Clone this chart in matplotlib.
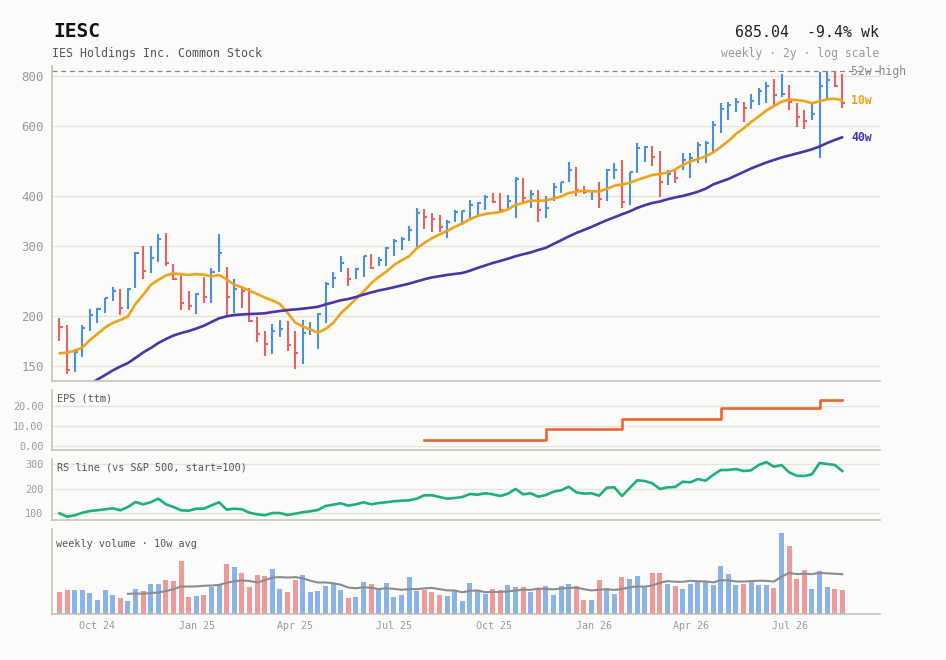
import numpy as np
import pandas as pd
import matplotlib
matplotlib.use("Agg")
import matplotlib.pyplot as plt
import matplotlib.dates as mdates
from matplotlib.ticker import FixedLocator, FuncFormatter, NullLocator

plt.rcParams['font.family'] = ['DejaVu Sans Mono', 'DejaVu Sans']

# ---------------- data ----------------
ticker = "IESC"
company = "IES Holdings Inc. Common Stock"
header_right = "685.04  -9.4% wk"
subheader_right = "weekly · 2y · log scale"

start_date = "2024-08-27"
n_weeks = 104

high = [197.9, 189.8, 165.2, 189.8, 208.3, 209.8, 222.2, 236.1, 233.7, 234.6,
        289.2, 299.8, 300.3, 321.4, 323.8, 270.2, 253.6, 231.1, 228.0, 250.1,
        263.4, 321.4, 265.0, 247.8, 234.6, 234.6, 199.1, 183.3, 190.9, 195.4,
        194.3, 183.3, 195.4, 193.2, 204.0, 242.8, 257.6, 283.0, 263.4, 263.4,
        283.3, 286.0, 280.5, 297.5, 311.5, 315.2, 336.6, 372.7, 370.7, 362.3,
        358.7, 348.8, 369.2, 367.0, 391.2, 387.4, 402.7, 408.1, 408.1, 402.7,
        445.9, 443.3, 413.8, 414.5, 400.4, 430.8, 434.8, 486.5, 474.2, 424.1,
        412.6, 434.8, 466.9, 485.4, 493.0, 460.8, 543.0, 534.5, 534.5, 519.3,
        465.3, 466.9, 512.5, 512.5, 548.0, 550.2, 617.7, 684.4, 690.7, 704.1,
        690.7, 721.0, 749.6, 772.8, 786.2, 809.3, 760.8, 684.4, 658.3, 690.7,
        821.1, 823.5, 822.5, 810.7]

low = [173.3, 142.7, 144.9, 158.0, 183.7, 192.4, 203.1, 218.5, 201.1, 207.8,
       234.6, 248.1, 256.1, 273.8, 267.5, 246.3, 207.0, 207.0, 201.9, 215.3,
       215.3, 258.5, 199.1, 203.8, 209.0, 192.8, 171.7, 159.0, 160.3, 177.4,
       163.6, 147.5, 151.2, 179.5, 165.6, 192.0, 235.2, 258.5, 237.9, 247.8,
       250.6, 261.8, 267.1, 267.1, 282.7, 293.0, 307.7, 295.7, 330.6, 324.8,
       325.7, 313.3, 345.1, 338.6, 353.0, 358.7, 369.2, 385.2, 365.6, 372.7,
       351.7, 387.4, 374.0, 343.9, 353.0, 389.0, 408.1, 434.8, 400.4, 404.3,
       391.2, 372.7, 389.6, 440.6, 372.7, 380.1, 456.6, 488.2, 476.1, 398.7,
       426.6, 430.8, 465.3, 443.3, 483.7, 483.7, 517.2, 577.4, 621.3, 651.9,
       613.2, 662.1, 677.6, 684.4, 673.7, 710.9, 658.3, 597.6, 588.4, 621.3,
       499.4, 697.5, 753.2, 664.5]

close = [187.9, 146.3, 162.7, 186.2, 201.1, 208.3, 221.4, 231.5, 209.8, 233.7,
         288.5, 260.0, 279.1, 312.2, 271.3, 247.8, 215.3, 211.9, 227.1, 223.2,
         258.5, 288.5, 223.5, 233.2, 231.5, 194.6, 179.9, 169.7, 183.7, 185.9,
         168.8, 161.8, 181.6, 184.4, 202.1, 241.1, 248.7, 272.2, 247.2, 262.0,
         283.0, 264.4, 276.5, 296.4, 309.2, 312.6, 328.9, 362.3, 353.8, 349.6,
         335.2, 345.1, 365.0, 366.0, 380.1, 383.8, 397.3, 387.4, 369.2, 389.6,
         441.4, 394.9, 405.0, 369.2, 374.0, 422.3, 433.3, 466.3, 414.5, 410.5,
         411.7, 393.5, 465.3, 466.3, 386.1, 459.2, 528.2, 530.4, 500.9, 434.8,
         454.6, 443.3, 493.0, 498.5, 537.6, 544.9, 603.6, 662.1, 677.6, 690.7,
         666.9, 693.5, 734.8, 756.4, 718.0, 722.2, 689.5, 633.2, 618.8, 643.2,
         754.1, 780.8, 756.1, 685.04]

ma10 = [161.2, 161.8, 163.6, 166.6, 174.0, 180.2, 187.1, 192.0, 195.4, 199.4,
        214.4, 225.8, 239.3, 246.3, 252.8, 255.8, 254.7, 253.6, 254.7, 254.0,
        251.4, 253.6, 247.1, 239.3, 236.1, 231.5, 227.1, 222.5, 218.8, 214.4,
        203.8, 192.6, 188.2, 185.0, 181.5, 185.5, 192.0, 203.1, 211.3, 220.6,
        230.1, 241.6, 250.6, 258.4, 268.6, 275.7, 282.5, 295.9, 305.1, 313.5,
        320.4, 327.0, 334.7, 341.5, 349.9, 356.6, 360.8, 362.8, 365.0, 370.3,
        380.1, 384.5, 389.6, 389.6, 390.1, 394.6, 399.2, 407.4, 410.4, 412.8,
        410.9, 410.9, 416.8, 424.9, 427.8, 431.5, 439.1, 445.6, 452.0, 454.7,
        458.6, 466.6, 479.0, 488.7, 495.8, 503.0, 514.8, 531.5, 550.2, 573.0,
        591.5, 614.2, 634.0, 656.4, 673.7, 690.7, 698.8, 697.5, 693.5, 684.3,
        692.3, 700.4, 702.8, 695.5]

ma40 = [122.3, 125.1, 128.1, 131.5, 134.9, 138.5, 142.1, 145.9, 149.3, 152.3,
        156.9, 161.9, 166.1, 171.0, 175.0, 178.6, 181.2, 183.3, 186.0, 189.0,
        193.2, 197.3, 199.6, 201.1, 201.7, 202.3, 202.6, 203.1, 204.6, 205.8,
        207.0, 207.7, 208.6, 209.7, 210.9, 213.8, 216.3, 219.0, 220.6, 223.2,
        226.2, 229.1, 231.7, 233.8, 236.1, 238.6, 241.1, 244.2, 247.3, 249.9,
        251.7, 253.6, 255.0, 256.5, 259.8, 264.0, 267.8, 271.7, 274.9, 278.5,
        282.5, 285.8, 288.8, 293.0, 296.7, 303.3, 309.9, 316.8, 323.2, 328.9,
        334.7, 341.5, 347.9, 353.9, 360.1, 366.0, 373.5, 379.4, 384.5, 387.8,
        392.8, 396.9, 400.4, 405.0, 410.4, 417.3, 427.8, 434.8, 441.7, 450.7,
        459.9, 469.4, 477.6, 485.9, 493.0, 500.1, 505.9, 511.8, 517.8, 524.4,
        533.0, 543.9, 553.4, 562.2]

volume_k = [226, 243, 243, 243, 216, 143, 243, 193, 166, 133,
            253, 233, 303, 303, 343, 333, 533, 176, 186, 193,
            276, 300, 503, 473, 416, 276, 393, 383, 453, 253,
            226, 343, 393, 226, 236, 283, 310, 243, 166, 176,
            323, 303, 253, 313, 176, 193, 376, 236, 243, 226,
            193, 186, 243, 133, 316, 236, 203, 253, 243, 293,
            273, 273, 223, 260, 283, 193, 283, 303, 283, 143,
            143, 343, 263, 203, 373, 353, 383, 273, 413, 413,
            303, 283, 253, 303, 333, 333, 293, 483, 403, 293,
            303, 323, 293, 293, 263, 813, 683, 353, 443, 253,
            433, 273, 253, 243]

rs_line = [100.0, 86.1, 91.8, 102.4, 109.4, 112.2, 116.3, 120.4, 112.2, 125.7,
           146.1, 136.7, 144.9, 159.6, 136.7, 125.7, 112.2, 110.6, 118.8, 118.8,
           132.6, 144.9, 114.7, 118.8, 116.3, 102.4, 95.9, 91.8, 101.2, 101.2,
           93.1, 98.4, 104.1, 108.2, 113.5, 129.8, 135.1, 140.8, 131.0, 136.7,
           144.9, 136.7, 142.0, 144.9, 149.0, 151.4, 153.0, 159.6, 173.4, 173.4,
           166.5, 159.6, 162.4, 166.5, 178.7, 175.9, 181.6, 177.5, 170.6, 180.0,
           199.1, 177.5, 181.6, 167.7, 174.7, 188.1, 193.8, 208.5, 185.7, 180.0,
           181.6, 171.8, 204.4, 206.1, 170.6, 202.0, 234.6, 231.8, 222.4, 199.1,
           206.1, 207.3, 228.9, 226.5, 239.9, 233.0, 256.3, 276.7, 276.7, 280.7,
           272.6, 275.4, 297.1, 309.3, 290.1, 297.1, 267.3, 253.4, 252.2, 259.1,
           305.2, 301.1, 297.1, 272.6]

eps_start_week = [48, 64, 74, 87, 100]
eps_value = [2.8, 8.3, 13.1, 18.8, 22.8]

price_ticks = [150, 200, 300, 400, 600, 800]
eps_ticks = [0, 10, 20]
rs_ticks = [100, 200, 300]

# ---------------- style ----------------
BG = "#fbfbf9"
SPINE = "#c4c4bc"
GRID = "#e4e4de"
TICKC = "#9a9a9a"
UP = "#4a90e2"
DOWN = "#e36464"
UP_V = "#8ab4e8"
DOWN_V = "#ee9a9a"
ORANGE = "#f0a318"
PURPLE = "#4a35a8"
EPSC = "#ea6530"
RSC = "#1fae7e"

dates = pd.date_range(start_date, periods=n_weeks, freq="7D")
x = mdates.date2num(dates.to_pydatetime())
close_a = np.array(close)
up = np.diff(close_a, prepend=close_a[0]) > 0
bar_cols = [UP if u else DOWN for u in up]
vol_cols = [UP_V if u else DOWN_V for u in up]

eps = np.full(n_weeks, np.nan)
for s, v in zip(eps_start_week, eps_value):
    eps[s:] = v

W, H = 946, 660
fig = plt.figure(figsize=(W / 100, H / 100), dpi=100)
fig.patch.set_facecolor(BG)


def box(left, top, right, bottom):
    return [left / W, 1 - bottom / H, (right - left) / W, (bottom - top) / H]


ax = fig.add_axes(box(52, 66, 880, 381))
ax_eps = fig.add_axes(box(52, 390, 880, 450), sharex=ax)
ax_rs = fig.add_axes(box(52, 459, 880, 520.3), sharex=ax)
ax_vol = fig.add_axes(box(52, 529, 880, 614.3), sharex=ax)

for a in (ax, ax_eps, ax_rs, ax_vol):
    a.set_facecolor(BG)
    for s in ("top", "right"):
        a.spines[s].set_visible(False)
    for s in ("left", "bottom"):
        a.spines[s].set_color(SPINE)
        a.spines[s].set_linewidth(1.2)
    a.tick_params(axis="both", length=0, labelcolor=TICKC)
    a.set_axisbelow(True)

# ---- price panel ----
ax.vlines(x, low, high, colors=bar_cols, lw=1.5)
ax.hlines(close, x, x + 2.8, colors=bar_cols, lw=1.5)
ax.plot(x, ma10, color=ORANGE, lw=1.9, solid_capstyle="round")
ax.plot(x, ma40, color=PURPLE, lw=1.9, solid_capstyle="round")
hi52 = max(high[-52:])
ax.axhline(hi52, color="#8a8a8a", lw=0.9, ls=(0, (4, 3)))
ax.set_yscale("log")
ax.set_ylim(137.3, 849)
ax.yaxis.set_major_locator(FixedLocator(price_ticks))
ax.yaxis.set_minor_locator(NullLocator())
ax.yaxis.set_major_formatter(FuncFormatter(lambda v, p: f"{v:.0f}"))
ax.tick_params(axis="y", labelsize=9, pad=6)
ax.tick_params(axis="x", labelbottom=False)
ax.grid(axis="y", color=GRID, lw=1.0)
lx = x[-1] + 8.3
ax.text(lx, hi52, "52w high", color="#8a8a8a", fontsize=8.3, va="center", ha="left")
ax.text(lx, ma10[-1], "10w", color=ORANGE, fontsize=8.3, fontweight="bold", va="center", ha="left")
ax.text(lx, ma40[-1], "40w", color=PURPLE, fontsize=8.3, fontweight="bold", va="center", ha="left")
ax.set_xlim(x[0] - 6.9, x[0] + 755.7)

# ---- EPS panel ----
ax_eps.step(x, eps, where="post", color=EPSC, lw=1.9)
ax_eps.set_ylim(-2.15, 27.85)
ax_eps.yaxis.set_major_locator(FixedLocator(eps_ticks))
ax_eps.yaxis.set_major_formatter(FuncFormatter(lambda v, p: f"{v:.2f}"))
ax_eps.tick_params(axis="y", labelsize=7.3, pad=6)
ax_eps.tick_params(axis="x", labelbottom=False)
ax_eps.grid(axis="y", color=GRID, lw=1.0)
ax_eps.text(0.0057, 0.862, "EPS (ttm)", transform=ax_eps.transAxes, fontsize=7.3,
            color="#555555", va="center", ha="left")

# ---- RS panel ----
ax_rs.plot(x, rs_line, color=RSC, lw=1.9)
ax_rs.set_ylim(71.4, 321.6)
ax_rs.yaxis.set_major_locator(FixedLocator(rs_ticks))
ax_rs.yaxis.set_major_formatter(FuncFormatter(lambda v, p: f"{v:.0f}"))
ax_rs.tick_params(axis="y", labelsize=7.3, pad=6)
ax_rs.tick_params(axis="x", labelbottom=False)
ax_rs.grid(axis="y", color=GRID, lw=1.0)
ax_rs.text(0.0057, 0.858, "RS line (vs S&P 500, start=100)", transform=ax_rs.transAxes,
           fontsize=7.3, color="#555555", va="center", ha="left")

# ---- volume panel ----
vol = pd.Series(volume_k, dtype=float)
ax_vol.bar(x, vol, width=4.6, color=vol_cols)
ax_vol.plot(x, vol.rolling(10).mean(), color="#8c8c8c", lw=1.5)
ax_vol.set_ylim(0, vol.max() * 1.05)
ax_vol.set_yticks([])
ax_vol.text(0.005, 0.824, "weekly volume · 10w avg", transform=ax_vol.transAxes,
            fontsize=7.3, color="#555555", va="center", ha="left")
ax_vol.xaxis.set_major_locator(mdates.MonthLocator(bymonth=[1, 4, 7, 10]))
ax_vol.xaxis.set_major_formatter(mdates.DateFormatter("%b %y"))
ax_vol.tick_params(axis="x", labelsize=7.2, pad=5, labelcolor=TICKC)

# ---- header ----
fig.text(53 / W, 1 - 36.7 / H, ticker, fontsize=14, fontweight="bold", color="#111111",
         va="baseline", ha="left")
fig.text(52 / W, 1 - 56.7 / H, company, fontsize=8.4, color="#555555",
         va="baseline", ha="left")
fig.text(879 / W, 1 - 36.7 / H, header_right, fontsize=10.7, color="#222222",
         va="baseline", ha="right")
fig.text(879 / W, 1 - 57 / H, subheader_right, fontsize=8.3, color="#9a9a9a",
         va="baseline", ha="right")

fig.savefig("out.png", dpi=100, facecolor=BG)
